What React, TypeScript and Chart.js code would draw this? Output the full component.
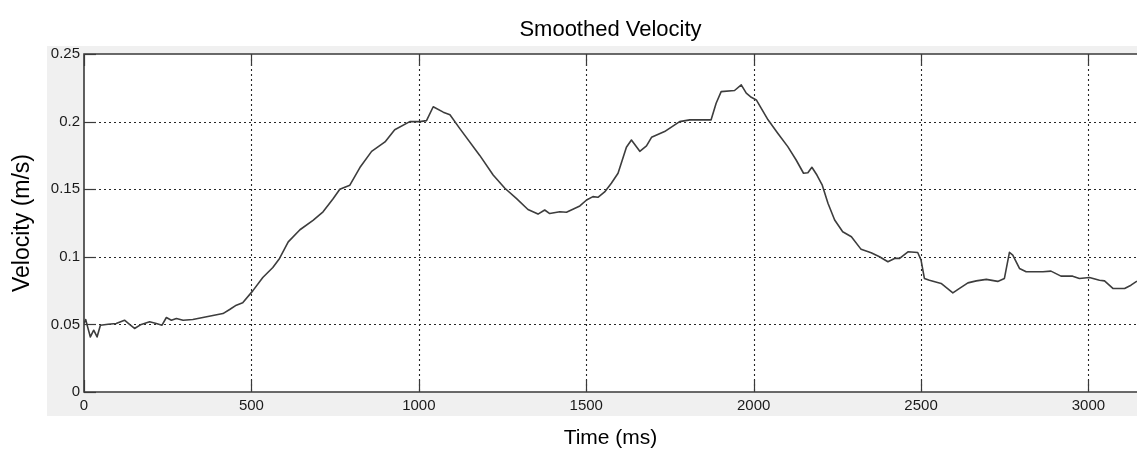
import React, { useEffect, useRef } from "react";
import { Chart, registerables } from "chart.js";

Chart.register(...registerables);

const chartTitle = "Smoothed Velocity";
const xAxisTitle = "Time (ms)";
const yAxisTitle = "Velocity (m/s)";

const timeMs = [
  0, 5, 11, 19, 29, 39, 49, 72, 96, 121, 136, 151, 171, 196, 216, 233, 246, 261, 276, 296,
  325, 355, 385, 415, 435, 455, 474, 504, 534, 564, 584,
  610, 645, 684, 714, 744, 764, 794, 824, 859, 899, 928, 973, 1003, 1023, 1043, 1073, 1093, 1122, 1182,
  1222, 1257, 1292, 1326, 1356, 1376, 1391, 1421, 1441, 1481, 1501, 1520, 1535, 1555, 1575, 1595,
  1620, 1635, 1660, 1680, 1695, 1734, 1779,
  1809, 1838, 1873, 1888, 1903, 1943, 1963, 1978, 1993, 2008, 2043, 2072, 2102, 2127, 2149, 2162,
  2174, 2189, 2205, 2222, 2242, 2266, 2292, 2321, 2351, 2376,
  2401, 2421, 2436, 2461, 2490, 2500, 2510, 2525, 2560, 2595, 2615, 2640, 2665, 2695, 2729, 2749,
  2764, 2774, 2794, 2814, 2864, 2888, 2918, 2953, 2973, 3003, 3033, 3048, 3073, 3108, 3127, 3145,
];

const velocity = [
  0.0507, 0.0536, 0.048, 0.0407, 0.0457, 0.0407, 0.0494, 0.0501, 0.0507, 0.0531, 0.0501, 0.047,
  0.05, 0.0519, 0.0507, 0.0494, 0.0551, 0.0531, 0.0544, 0.0531,
  0.0536, 0.0551, 0.0566, 0.058, 0.061, 0.0642, 0.066, 0.0748, 0.0847, 0.0921, 0.0988,
  0.111, 0.12, 0.127, 0.1333, 0.143, 0.15, 0.153, 0.166, 0.178, 0.185, 0.194, 0.2, 0.2, 0.2007,
  0.211, 0.207, 0.205, 0.195, 0.175,
  0.1605, 0.1507, 0.143, 0.135, 0.1316, 0.1346, 0.132, 0.1333, 0.133, 0.1376, 0.142, 0.1445, 0.144,
  0.148, 0.1544, 0.1618,
  0.181, 0.1864, 0.178, 0.182, 0.1884, 0.1926, 0.2,
  0.2013, 0.2013, 0.2013, 0.2136, 0.2222, 0.223, 0.2272, 0.221, 0.218, 0.216, 0.2013, 0.1914,
  0.1815, 0.1716, 0.1618, 0.1622,
  0.1662, 0.1605, 0.153, 0.1396, 0.1272, 0.1185, 0.1148, 0.1055, 0.103, 0.1,
  0.0963, 0.0988, 0.0988, 0.1037, 0.1032, 0.0976, 0.084, 0.0827, 0.0803, 0.0733, 0.0766, 0.0807,
  0.0822, 0.0833, 0.0818, 0.084,
  0.1033, 0.1013, 0.0914, 0.0889, 0.0889, 0.0894, 0.0857, 0.0857, 0.084, 0.0847, 0.0827, 0.0822,
  0.0766, 0.0766, 0.079, 0.082,
];

const xTickValues = [0, 500, 1000, 1500, 2000, 2500, 3000];
const yTickValues = [0, 0.05, 0.1, 0.15, 0.2, 0.25];
const xRange = [0, 3145];
const yRange = [0, 0.25];

const FONT = "'Liberation Sans', Arial, Helvetica, sans-serif";

const matlabFrame = {
  id: "matlabFrame",
  beforeDraw(chart: any) {
    const { ctx, width, height, chartArea: a } = chart;
    ctx.save();
    ctx.fillStyle = "#ffffff";
    ctx.fillRect(0, 0, width, height);
    ctx.fillStyle = "#f0f0f0";
    ctx.fillRect(a.left - 37, a.top - 8, width - (a.left - 37), a.bottom + 24 - (a.top - 8));
    ctx.fillStyle = "#ffffff";
    ctx.fillRect(a.left, a.top, a.right - a.left, a.bottom - a.top);
    ctx.restore();
  },
  beforeDatasetsDraw(chart: any) {
    const { ctx, chartArea: a, scales } = chart;
    ctx.save();
    ctx.strokeStyle = "#262626";
    ctx.lineWidth = 1.1;
    ctx.setLineDash([2, 3]);
    for (const v of xTickValues) {
      if (v === xRange[0] || v === xRange[1]) continue;
      const x = Math.round(scales.x.getPixelForValue(v)) + 0.5;
      ctx.beginPath();
      ctx.moveTo(x, a.top);
      ctx.lineTo(x, a.bottom);
      ctx.stroke();
    }
    for (const v of yTickValues) {
      if (v === yRange[0] || v === yRange[1]) continue;
      const y = Math.round(scales.y.getPixelForValue(v)) + 0.5;
      ctx.beginPath();
      ctx.moveTo(a.left, y);
      ctx.lineTo(a.right, y);
      ctx.stroke();
    }
    ctx.restore();
  },
  afterDatasetsDraw(chart: any) {
    const { ctx, chartArea: a, scales } = chart;
    const tick = 12;
    ctx.save();
    ctx.strokeStyle = "#3a3a3a";
    ctx.lineWidth = 1.6;
    ctx.setLineDash([]);
    ctx.beginPath();
    ctx.moveTo(a.right + 2, a.top);
    ctx.lineTo(a.left, a.top);
    ctx.lineTo(a.left, a.bottom);
    ctx.lineTo(a.right + 2, a.bottom);
    ctx.stroke();
    ctx.lineWidth = 1.2;
    for (const v of xTickValues) {
      const x = Math.round(scales.x.getPixelForValue(v)) + 0.5;
      ctx.beginPath();
      ctx.moveTo(x, a.bottom);
      ctx.lineTo(x, a.bottom - tick);
      ctx.moveTo(x, a.top);
      ctx.lineTo(x, a.top + tick);
      ctx.stroke();
    }
    for (const v of yTickValues) {
      const y = Math.round(scales.y.getPixelForValue(v)) + 0.5;
      ctx.beginPath();
      ctx.moveTo(a.left, y);
      ctx.lineTo(a.left + tick, y);
      ctx.stroke();
    }
    ctx.restore();
  },
};

export default function App() {
  const canvasRef = useRef<HTMLCanvasElement | null>(null);

  useEffect(() => {
    const canvas = canvasRef.current;
    if (!canvas) return;
    const points = timeMs.map((t, i) => ({ x: t, y: velocity[i] }));
    const chart = new Chart(canvas, {
      type: "line",
      data: {
        datasets: [
          {
            data: points,
            borderColor: "#3d3d3d",
            borderWidth: 1.6,
            pointRadius: 0,
            tension: 0,
            fill: false,
            borderJoinStyle: "round",
          },
        ],
      },
      options: {
        responsive: false,
        animation: false,
        devicePixelRatio: 1,
        layout: { padding: 0 },
        plugins: {
          legend: { display: false },
          tooltip: { enabled: false },
          title: {
            display: true,
            text: chartTitle,
            fullSize: false,
            color: "#000000",
            font: { family: FONT, size: 22, weight: "normal" },
            padding: { top: 17, bottom: 10.6 },
          },
        },
        scales: {
          x: {
            type: "linear",
            min: xRange[0],
            max: xRange[1],
            afterBuildTicks: (s: any) => {
              s.ticks = xTickValues.map((v) => ({ value: v }));
            },
            afterFit: (s: any) => {
              s.height = 61;
            },
            grid: { display: false, drawTicks: false },
            border: { display: false },
            ticks: {
              padding: 5,
              color: "#1a1a1a",
              maxRotation: 0,
              autoSkip: false,
              font: { family: FONT, size: 15 },
              callback: (v: any) => String(v),
            },
            title: {
              display: true,
              text: xAxisTitle,
              color: "#000000",
              font: { family: FONT, size: 21 },
              padding: { top: 0, bottom: 2 },
            },
          },
          y: {
            type: "linear",
            min: yRange[0],
            max: yRange[1],
            afterBuildTicks: (s: any) => {
              s.ticks = yTickValues.map((v) => ({ value: v }));
            },
            afterFit: (s: any) => {
              s.width = 84;
            },
            grid: { display: false, drawTicks: false },
            border: { display: false },
            ticks: {
              padding: 4,
              color: "#1a1a1a",
              autoSkip: false,
              font: { family: FONT, size: 15 },
              callback: (v: any) => String(Number(Number(v).toFixed(2))),
            },
            title: {
              display: true,
              text: yAxisTitle,
              color: "#000000",
              font: { family: FONT, size: 23 },
              padding: { top: 9, bottom: 0 },
            },
          },
        },
      },
      plugins: [matlabFrame],
    } as any);
    return () => chart.destroy();
  }, []);

  return (
    <div style={{ position: "absolute", left: 0, top: 0, width: 1137, height: 453, background: "#ffffff" }}>
      <canvas ref={canvasRef} width={1137} height={453} style={{ display: "block" }} />
    </div>
  );
}
